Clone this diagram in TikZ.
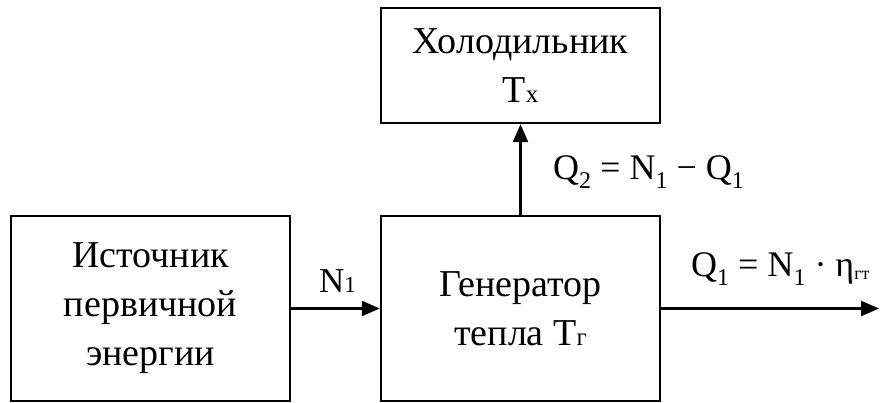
\documentclass[tikz,border=0pt]{standalone}
\usepackage{fontspec}
\setmainfont{Liberation Serif}
\usetikzlibrary{arrows.meta}
% indices: small letters on the baseline, and lowered ones in formulas
\newcommand{\mal}[1]{{\fontsize{25}{25}\selectfont #1}}
\newcommand{\ind}[1]{\raisebox{-9pt}{\fontsize{24}{24}\selectfont #1}}
\newcommand{\indgt}[1]{\raisebox{-3pt}{\fontsize{18}{18}\selectfont #1}}

\begin{document}
\begin{tikzpicture}[x=1pt,y=-1pt,
  bloco/.style={draw, line width=2.5pt, minimum width=279pt, align=center,
    font=\fontsize{38}{43}\selectfont},
  seta/.style={line width=2.5pt, -{Triangle[length=18pt,width=15pt]}},
  rotulo/.style={anchor=base west, inner sep=0pt, font=\fontsize{36}{40}\selectfont}]
  \useasboundingbox (0,0) rectangle (881,403);

  % Os tres blocos do esquema.
  \node[bloco, minimum height=185pt] (fonte) at (150.5,308.5)
    {Источник\\[6pt]первичной\\[6pt]энергии};
  \node[bloco, minimum height=185pt] (gerador) at (520.5,308.5)
    {Генератор\\[6pt]тепла Т\mal{г}};
  \node[bloco, minimum height=115pt] (frio) at (520.5,65.5)
    {Холодильник\\[6pt]Т\mal{х}};

  % Saida livre do calor util, a direita.
  \coordinate (saida) at (879,308.5);

  % Fluxos de energia entre os blocos.
  \draw[seta] (fonte) -- (gerador);
  \draw[seta] (gerador) -- (frio);
  \draw[seta] (gerador) -- (saida);

  % Rotulos dos fluxos.
  \node[anchor=base west, inner sep=0pt, font=\fontsize{35}{35}\selectfont]
    (n1) at (319,293) {N{\fontsize{23}{23}\selectfont 1}};
  \node[rotulo] (q2) at (553,180) {Q\ind{2} = N\ind{1} − Q\ind{1}};
  \node[rotulo] (q1) at (691,277) {Q\ind{1} = N\ind{1} · η\indgt{гт}};
\end{tikzpicture}
\end{document}
